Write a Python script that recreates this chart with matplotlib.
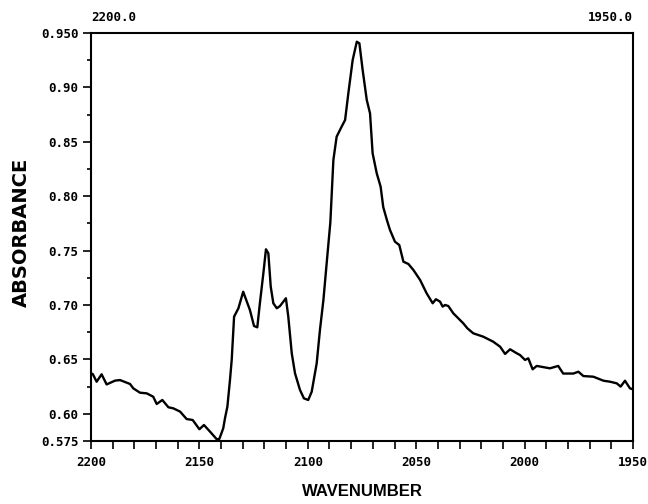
import matplotlib
matplotlib.use("Agg")
import matplotlib.pyplot as plt
from matplotlib.ticker import FixedLocator, MultipleLocator

wavenumber = [2200.0, 2199.2, 2197.4, 2195.1, 2192.8, 2188.9, 2186.6, 2182.0, 2180.5, 2177.4,
              2174.3, 2171.3, 2169.7, 2167.1, 2164.3, 2162.0, 2158.9, 2155.9, 2153.1, 2150.0,
              2147.9, 2145.1, 2142.0, 2140.8, 2139.0, 2138.2, 2137.1, 2135.9, 2135.1, 2134.0,
              2132.0, 2129.8, 2126.7, 2124.8, 2123.3, 2122.1, 2120.5, 2119.3, 2118.2, 2117.1,
              2115.9, 2114.3, 2112.8, 2110.1, 2109.0, 2107.4, 2105.9, 2103.6, 2101.8, 2099.8,
              2098.2, 2095.9, 2094.4, 2092.8, 2091.3, 2089.6, 2088.2, 2086.7, 2084.4, 2082.8,
              2081.3, 2079.3, 2077.4, 2076.2, 2074.7, 2072.8, 2071.3, 2070.1, 2068.2, 2066.4,
              2065.2, 2063.5, 2062.1, 2059.8, 2057.8, 2055.9, 2053.6, 2051.3, 2048.2, 2045.2,
              2042.4, 2040.9, 2039.0, 2037.8, 2036.7, 2035.2, 2032.9, 2028.3, 2026.4, 2023.7,
              2019.1, 2014.5, 2011.3, 2009.0, 2006.7, 2003.6, 2002.1, 1999.8, 1998.3, 1996.3,
              1994.4, 1988.3, 1984.5, 1982.2, 1977.5, 1975.2, 1972.9, 1968.3, 1963.6, 1960.6,
              1957.5, 1955.7, 1953.7, 1951.4, 1950.0]
absorbance = [0.637, 0.6366, 0.6295, 0.6363, 0.627, 0.6305, 0.631, 0.6274, 0.6234, 0.6194,
              0.6188, 0.6157, 0.609, 0.6127, 0.606, 0.605, 0.602, 0.5952, 0.5943, 0.5858,
              0.5897, 0.5836, 0.5766, 0.5769, 0.5867, 0.5959, 0.6065, 0.631, 0.6495, 0.6893,
              0.697, 0.7122, 0.6954, 0.6807, 0.6795, 0.7016, 0.7291, 0.7512, 0.7475, 0.7169,
              0.7016, 0.697, 0.6991, 0.7062, 0.6893, 0.6556, 0.6372, 0.6219, 0.6142, 0.6127,
              0.6203, 0.6464, 0.677, 0.7046, 0.7383, 0.776, 0.8333, 0.8547, 0.8639, 0.870,
              0.8946, 0.9252, 0.942, 0.9405, 0.916, 0.8884, 0.8762, 0.8394, 0.821, 0.8087,
              0.790, 0.778, 0.769, 0.7582, 0.7551, 0.7398, 0.7377, 0.7322, 0.723, 0.7108,
              0.7016, 0.7053, 0.7031, 0.6985, 0.7, 0.6991, 0.6924, 0.6832, 0.6786, 0.674,
              0.6709, 0.6663, 0.6617, 0.655, 0.6593, 0.6556, 0.654, 0.6495, 0.651, 0.6409,
              0.644, 0.6418, 0.644, 0.637, 0.637, 0.6387, 0.6347, 0.6341, 0.6304, 0.6295,
              0.628, 0.625, 0.6304, 0.6234, 0.6225]

x_ticks = [2200, 2150, 2100, 2050, 2000, 1950]
x_ticklabels = ["2200", "2150", "2100", "2050", "2000", "1950"]
y_ticks = [0.575, 0.60, 0.65, 0.70, 0.75, 0.80, 0.85, 0.90, 0.95]
y_ticklabels = ["0.575", "0.60", "0.65", "0.70", "0.75", "0.80", "0.85", "0.90", "0.950"]
top_left_label = "2200.0"
top_right_label = "1950.0"

mono = "DejaVu Sans Mono"

fig = plt.figure(figsize=(6.48, 5.04), dpi=100)
ax = fig.add_axes([91 / 648, 1 - 441 / 504, 542 / 648, 408 / 504])
ax.plot(wavenumber, absorbance, color="black", lw=1.7)
ax.set_xlim(2200, 1950)
ax.set_ylim(0.575, 0.950)

for s in ax.spines.values():
    s.set_linewidth(1.5)

ax.xaxis.set_major_locator(FixedLocator(x_ticks))
ax.set_xticklabels(x_ticklabels, fontfamily=mono, fontweight="bold", fontsize=9)
ax.xaxis.set_minor_locator(MultipleLocator(10))
ax.yaxis.set_major_locator(FixedLocator(y_ticks))
ax.set_yticklabels(y_ticklabels, fontfamily=mono, fontweight="bold", fontsize=9)
ax.yaxis.set_minor_locator(FixedLocator([0.625, 0.675, 0.725, 0.775, 0.825, 0.875, 0.925]))
ax.tick_params(axis="x", which="both", direction="out", length=6, width=1.2, pad=5)
ax.tick_params(axis="y", which="major", direction="out", length=6, width=1.2, pad=3)
ax.tick_params(axis="y", which="minor", direction="out", length=3, width=1.2)

ax.text(0.0, 1.022, top_left_label, transform=ax.transAxes, ha="left", va="bottom",
        fontfamily=mono, fontweight="bold", fontsize=9)
ax.text(1.0, 1.022, top_right_label, transform=ax.transAxes, ha="right", va="bottom",
        fontfamily=mono, fontweight="bold", fontsize=9)

fig.text(362 / 648, 1 - 492 / 504, "WAVENUMBER", ha="center", va="center",
         fontfamily="Liberation Sans", fontweight="bold", fontsize=12)
fig.text(21 / 648, 1 - 232 / 504, "ABSORBANCE", ha="center", va="center", rotation=90,
         fontfamily="DejaVu Sans", fontweight="bold", fontsize=14)

fig.savefig("out.png", dpi=100)
